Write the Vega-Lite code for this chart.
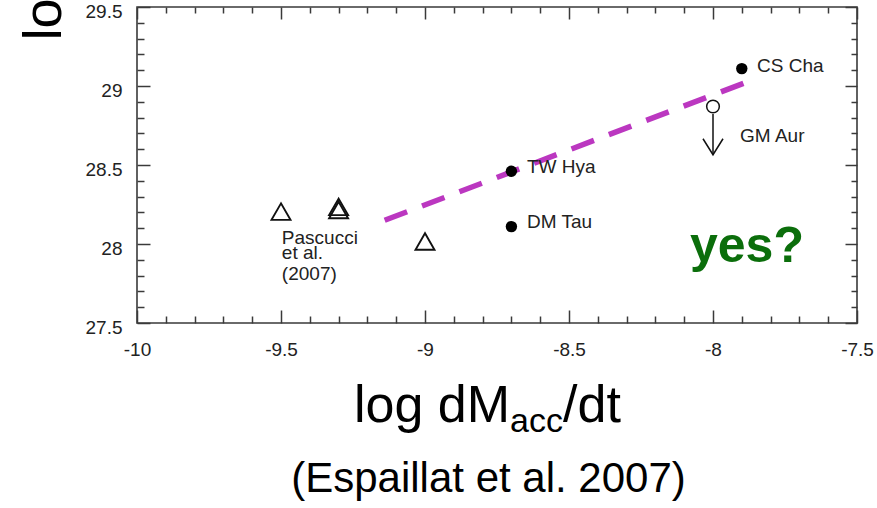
{
  "$schema": "https://vega.github.io/schema/vega-lite/v6.json",
  "width": 720,
  "height": 316,
  "autosize": {"type": "none"},
  "padding": {"left": 137, "top": 7, "right": 20, "bottom": 185},
  "background": "white",
  "config": {
    "view": {"stroke": "#3a3a3a", "strokeWidth": 1.6},
    "font": "Liberation Sans"
  },
  "datasets": {
    "fit": [{"x": -9.14, "y": 28.15}, {"x": -7.89, "y": 29.02}],
    "tri": [
      {"x": -9.5, "y": 28.205},
      {"x": -9.3, "y": 28.215},
      {"x": -9.3, "y": 28.235},
      {"x": -9.0, "y": 28.016}
    ],
    "dots": [
      {"x": -8.7, "y": 28.46, "name": "TW Hya"},
      {"x": -8.7, "y": 28.11, "name": "DM Tau"},
      {"x": -7.9, "y": 29.11, "name": "CS Cha"}
    ],
    "open": [{"x": -8.0, "y": 28.87, "name": "GM Aur"}],
    "arrow": [{"x": -8.0, "y": 28.823, "y2": 28.565}],
    "head": [{"x": -8.0, "y": 28.565}],
    "labels": [
      {"x": -7.847, "y": 29.089, "text": "CS Cha"},
      {"x": -7.906, "y": 28.646, "text": "GM Aur"},
      {"x": -8.646, "y": 28.449, "text": "TW Hya"},
      {"x": -8.646, "y": 28.101, "text": "DM Tau"},
      {"x": -9.497, "y": 27.998, "text": "Pascucci"},
      {"x": -9.497, "y": 27.905, "text": "et al."},
      {"x": -9.497, "y": 27.772, "text": "(2007)"}
    ],
    "yes": [{"x": -8.08, "y": 27.886, "text": "yes?"}],
    "t1": [{"x": -8.7049, "y": 26.873, "text": "log dM"}],
    "t2": [{"x": -8.7049, "y": 26.81, "text": "acc"}],
    "t3": [{"x": -8.5208, "y": 26.873, "text": "/dt"}],
    "cap": [{"x": -8.7795, "y": 26.43, "text": "(Espaillat et al. 2007)"}]
  },
  "resolve": {"axis": {"x": "independent", "y": "independent"}},
  "layer": [
    {
      "data": {"name": "fit"},
      "mark": {"type": "line", "color": "#bb37c0", "strokeWidth": 5.5, "strokeDash": [24, 16], "strokeCap": "butt"},
      "encoding": {
        "x": {
          "field": "x", "type": "quantitative",
          "scale": {"domain": [-10, -7.5], "nice": false, "zero": false},
          "axis": {
            "orient": "bottom",
            "values": [-10, -9.9, -9.8, -9.7, -9.6, -9.5, -9.4, -9.3, -9.2, -9.1, -9, -8.9, -8.8, -8.7, -8.6, -8.5, -8.4, -8.3, -8.2, -8.1, -8, -7.9, -7.8, -7.7, -7.6, -7.5],
            "tickSize": {"condition": {"test": "abs(datum.value*2 - round(datum.value*2)) < 0.001", "value": -13}, "value": -7},
            "labelExpr": "abs(datum.value*2 - round(datum.value*2)) < 0.001 ? '' + datum.value : ''",
            "labelFont": "Liberation Sans", "labelFontSize": 19, "labelColor": "#222",
            "labelPadding": 30, "labelOverlap": false, "labelFlush": false, "labelBound": false,
            "domain": false, "grid": false, "tickColor": "#3a3a3a", "tickWidth": 1.5,
            "title": null
          }
        },
        "y": {
          "field": "y", "type": "quantitative",
          "scale": {"domain": [27.5, 29.5], "nice": false, "zero": false},
          "axis": {
            "orient": "left",
            "values": [27.5, 27.6, 27.7, 27.8, 27.9, 28, 28.1, 28.2, 28.3, 28.4, 28.5, 28.6, 28.7, 28.8, 28.9, 29, 29.1, 29.2, 29.3, 29.4, 29.5],
            "tickSize": {"condition": {"test": "abs(datum.value*2 - round(datum.value*2)) < 0.001", "value": -13}, "value": -7},
            "labelExpr": "abs(datum.value*2 - round(datum.value*2)) < 0.001 ? '' + datum.value : ''",
            "labelFont": "Liberation Sans", "labelFontSize": 19, "labelColor": "#222",
            "labelPadding": 28, "labelOffset": 4, "labelOverlap": false, "labelFlush": false, "labelBound": false,
            "domain": false, "grid": false, "tickColor": "#3a3a3a", "tickWidth": 1.5,
            "title": "log Lₓ",
            "titleFont": "Liberation Sans", "titleFontSize": 54, "titleFontWeight": "normal", "titleColor": "#000",
            "titleAngle": 270, "titleAlign": "left", "titleBaseline": "alphabetic",
            "titleX": -77, "titleY": 33
          }
        }
      }
    },
    {
      "data": {"name": "tri"},
      "mark": {"type": "point", "shape": "triangle-up", "filled": false, "stroke": "#111", "strokeWidth": 1.9, "size": 360, "opacity": 1},
      "encoding": {
        "x": {
          "field": "x", "type": "quantitative",
          "scale": {"domain": [-10, -7.5], "nice": false, "zero": false},
          "axis": {
            "orient": "top",
            "values": [-10, -9.9, -9.8, -9.7, -9.6, -9.5, -9.4, -9.3, -9.2, -9.1, -9, -8.9, -8.8, -8.7, -8.6, -8.5, -8.4, -8.3, -8.2, -8.1, -8, -7.9, -7.8, -7.7, -7.6, -7.5],
            "tickSize": {"condition": {"test": "abs(datum.value*2 - round(datum.value*2)) < 0.001", "value": -12}, "value": -6},
            "labels": false, "domain": false, "grid": false, "tickColor": "#3a3a3a", "tickWidth": 1.5, "title": null
          }
        },
        "y": {
          "field": "y", "type": "quantitative",
          "scale": {"domain": [27.5, 29.5], "nice": false, "zero": false},
          "axis": {
            "orient": "right",
            "values": [27.5, 27.6, 27.7, 27.8, 27.9, 28, 28.1, 28.2, 28.3, 28.4, 28.5, 28.6, 28.7, 28.8, 28.9, 29, 29.1, 29.2, 29.3, 29.4, 29.5],
            "tickSize": {"condition": {"test": "abs(datum.value*2 - round(datum.value*2)) < 0.001", "value": -12}, "value": -6},
            "labels": false, "domain": false, "grid": false, "tickColor": "#3a3a3a", "tickWidth": 1.5, "title": null
          }
        }
      }
    },
    {
      "data": {"name": "dots"},
      "mark": {"type": "point", "shape": "circle", "filled": true, "fill": "#000", "size": 130, "opacity": 1},
      "encoding": {
        "x": {"field": "x", "type": "quantitative", "scale": {"domain": [-10, -7.5], "nice": false, "zero": false}, "axis": null},
        "y": {"field": "y", "type": "quantitative", "scale": {"domain": [27.5, 29.5], "nice": false, "zero": false}, "axis": null}
      }
    },
    {
      "data": {"name": "arrow"},
      "mark": {"type": "rule", "color": "#111", "strokeWidth": 1.5},
      "encoding": {
        "x": {"field": "x", "type": "quantitative", "scale": {"domain": [-10, -7.5], "nice": false, "zero": false}, "axis": null},
        "y": {"field": "y", "type": "quantitative", "scale": {"domain": [27.5, 29.5], "nice": false, "zero": false}, "axis": null},
        "y2": {"field": "y2"}
      }
    },
    {
      "data": {"name": "head"},
      "mark": {"type": "point", "shape": "M-1,-1.6L0,0L1,-1.6", "filled": false, "stroke": "#111", "strokeWidth": 1.5, "size": 400, "opacity": 1},
      "encoding": {
        "x": {"field": "x", "type": "quantitative", "scale": {"domain": [-10, -7.5], "nice": false, "zero": false}, "axis": null},
        "y": {"field": "y", "type": "quantitative", "scale": {"domain": [27.5, 29.5], "nice": false, "zero": false}, "axis": null}
      }
    },
    {
      "data": {"name": "open"},
      "mark": {"type": "point", "shape": "circle", "filled": true, "fill": "white", "stroke": "#111", "strokeWidth": 1.5, "size": 160, "opacity": 1},
      "encoding": {
        "x": {"field": "x", "type": "quantitative", "scale": {"domain": [-10, -7.5], "nice": false, "zero": false}, "axis": null},
        "y": {"field": "y", "type": "quantitative", "scale": {"domain": [27.5, 29.5], "nice": false, "zero": false}, "axis": null}
      }
    },
    {
      "data": {"name": "labels"},
      "mark": {"type": "text", "align": "left", "baseline": "alphabetic", "font": "Liberation Sans", "fontSize": 19, "color": "#222"},
      "encoding": {
        "x": {"field": "x", "type": "quantitative", "scale": {"domain": [-10, -7.5], "nice": false, "zero": false}, "axis": null},
        "y": {"field": "y", "type": "quantitative", "scale": {"domain": [27.5, 29.5], "nice": false, "zero": false}, "axis": null},
        "text": {"field": "text"}
      }
    },
    {
      "data": {"name": "yes"},
      "mark": {"type": "text", "align": "left", "baseline": "alphabetic", "font": "Liberation Sans", "fontSize": 50, "fontWeight": "bold", "color": "#0b6e0b"},
      "encoding": {
        "x": {"field": "x", "type": "quantitative", "scale": {"domain": [-10, -7.5], "nice": false, "zero": false}, "axis": null},
        "y": {"field": "y", "type": "quantitative", "scale": {"domain": [27.5, 29.5], "nice": false, "zero": false}, "axis": null},
        "text": {"field": "text"}
      }
    },
    {
      "data": {"name": "t1"},
      "mark": {"type": "text", "align": "right", "baseline": "alphabetic", "font": "Liberation Sans", "fontSize": 52, "color": "#000"},
      "encoding": {
        "x": {"field": "x", "type": "quantitative", "scale": {"domain": [-10, -7.5], "nice": false, "zero": false}, "axis": null},
        "y": {"field": "y", "type": "quantitative", "scale": {"domain": [27.5, 29.5], "nice": false, "zero": false}, "axis": null},
        "text": {"field": "text"}
      }
    },
    {
      "data": {"name": "t2"},
      "mark": {"type": "text", "align": "left", "baseline": "alphabetic", "font": "Liberation Sans", "fontSize": 34, "color": "#000"},
      "encoding": {
        "x": {"field": "x", "type": "quantitative", "scale": {"domain": [-10, -7.5], "nice": false, "zero": false}, "axis": null},
        "y": {"field": "y", "type": "quantitative", "scale": {"domain": [27.5, 29.5], "nice": false, "zero": false}, "axis": null},
        "text": {"field": "text"}
      }
    },
    {
      "data": {"name": "t3"},
      "mark": {"type": "text", "align": "left", "baseline": "alphabetic", "font": "Liberation Sans", "fontSize": 52, "color": "#000"},
      "encoding": {
        "x": {"field": "x", "type": "quantitative", "scale": {"domain": [-10, -7.5], "nice": false, "zero": false}, "axis": null},
        "y": {"field": "y", "type": "quantitative", "scale": {"domain": [27.5, 29.5], "nice": false, "zero": false}, "axis": null},
        "text": {"field": "text"}
      }
    },
    {
      "data": {"name": "cap"},
      "mark": {"type": "text", "align": "center", "baseline": "alphabetic", "font": "Liberation Sans", "fontSize": 42, "color": "#000"},
      "encoding": {
        "x": {"field": "x", "type": "quantitative", "scale": {"domain": [-10, -7.5], "nice": false, "zero": false}, "axis": null},
        "y": {"field": "y", "type": "quantitative", "scale": {"domain": [27.5, 29.5], "nice": false, "zero": false}, "axis": null},
        "text": {"field": "text"}
      }
    }
  ]
}
